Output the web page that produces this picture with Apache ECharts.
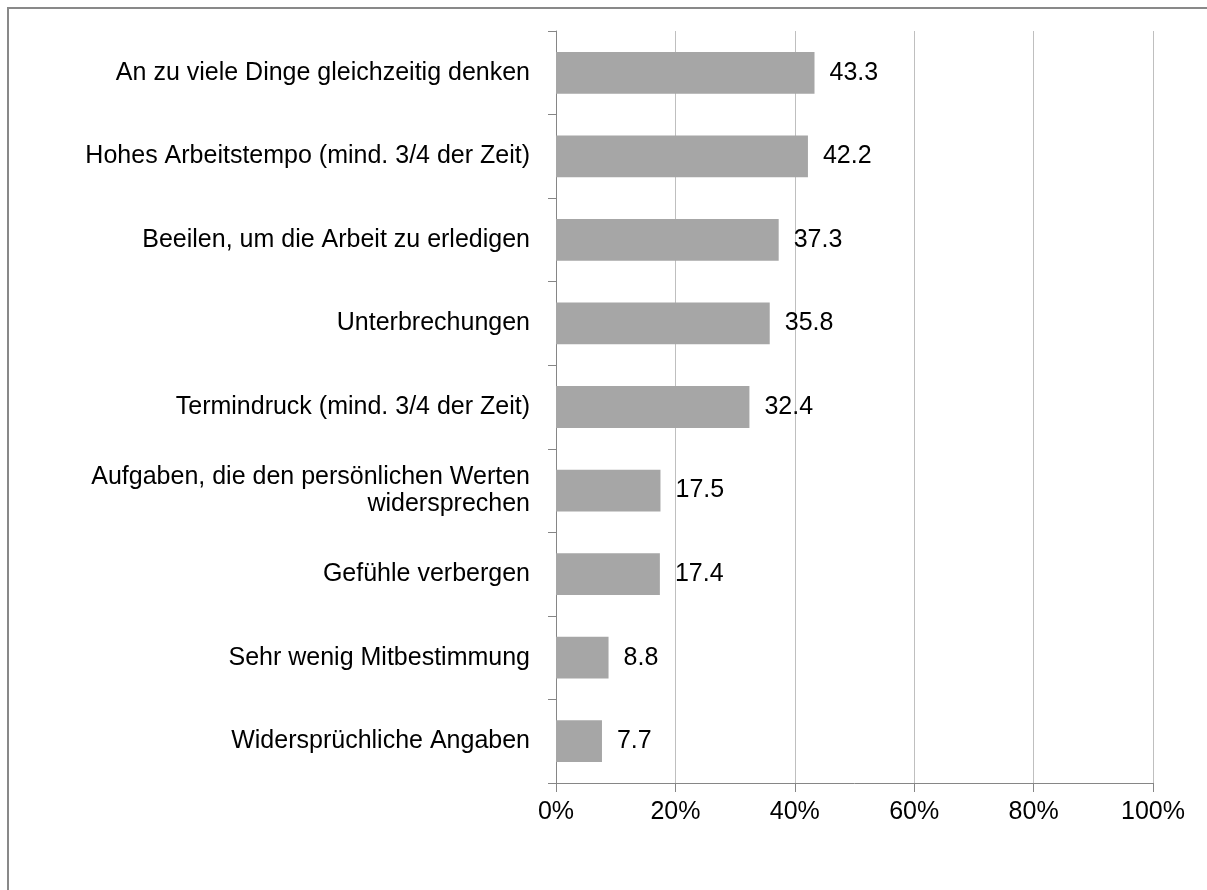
<!DOCTYPE html>
<html>
<head>
<meta charset="utf-8">
<script src="https://cdn.jsdelivr.net/npm/echarts@6/dist/echarts.min.js"></script>
<style>
html,body{margin:0;padding:0;background:#fff;}
#c{width:1207px;height:890px;}
</style>
</head>
<body>
<div id="c"></div>
<script>
const categories = [
  "An zu viele Dinge gleichzeitig denken",
  "Hohes Arbeitstempo (mind. 3/4 der Zeit)",
  "Beeilen, um die Arbeit zu erledigen",
  "Unterbrechungen",
  "Termindruck (mind. 3/4 der Zeit)",
  "Aufgaben, die den persönlichen Werten\nwidersprechen",
  "Gefühle verbergen",
  "Sehr wenig Mitbestimmung",
  "Widersprüchliche Angaben"
];
const values = [43.3, 42.2, 37.3, 35.8, 32.4, 17.5, 17.4, 8.8, 7.7];
const tickValues = [0, 20, 40, 60, 80, 100];

const FONT = '"Liberation Sans Narrow", "Arial Narrow", "Liberation Sans", Arial, sans-serif';
const chart = echarts.init(document.getElementById('c'), null, {renderer: 'canvas'});
chart.setOption({
  animation: false,
  backgroundColor: '#ffffff',
  graphic: [{
    type: 'rect',
    shape: {x: 8, y: 8, width: 1300, height: 1000},
    style: {fill: 'none', stroke: '#898989', lineWidth: 2},
    z: 100
  }],
  grid: {left: 556, right: 54, top: 31, bottom: 107, containLabel: false},
  xAxis: {
    type: 'value',
    min: tickValues[0],
    max: tickValues[tickValues.length - 1],
    interval: 20,
    axisLine: {show: true, lineStyle: {color: '#868686', width: 1}},
    axisTick: {show: true, length: 9, lineStyle: {color: '#868686'}},
    splitLine: {show: true, lineStyle: {color: '#bfbfbf', width: 1}},
    axisLabel: {
      margin: 17,
      color: '#000',
      fontFamily: FONT,
      fontSize: 25,
      formatter: v => v + '%'
    }
  },
  yAxis: {
    type: 'category',
    data: categories,
    inverse: true,
    axisLine: {show: true, lineStyle: {color: '#868686', width: 1}},
    axisTick: {show: true, length: 8, lineStyle: {color: '#868686'}},
    axisLabel: {
      margin: 26,
      color: '#000',
      fontFamily: FONT,
      fontSize: 25,
      lineHeight: 27,
      align: 'right'
    }
  },
  series: [{
    type: 'bar',
    data: values,
    barWidth: '50%',
    itemStyle: {color: '#a6a6a6'},
    label: {
      show: true,
      position: 'right',
      distance: 15,
      color: '#000',
      fontFamily: FONT,
      fontSize: 25,
      formatter: p => p.value.toFixed(1)
    }
  }]
});
</script>
</body>
</html>
